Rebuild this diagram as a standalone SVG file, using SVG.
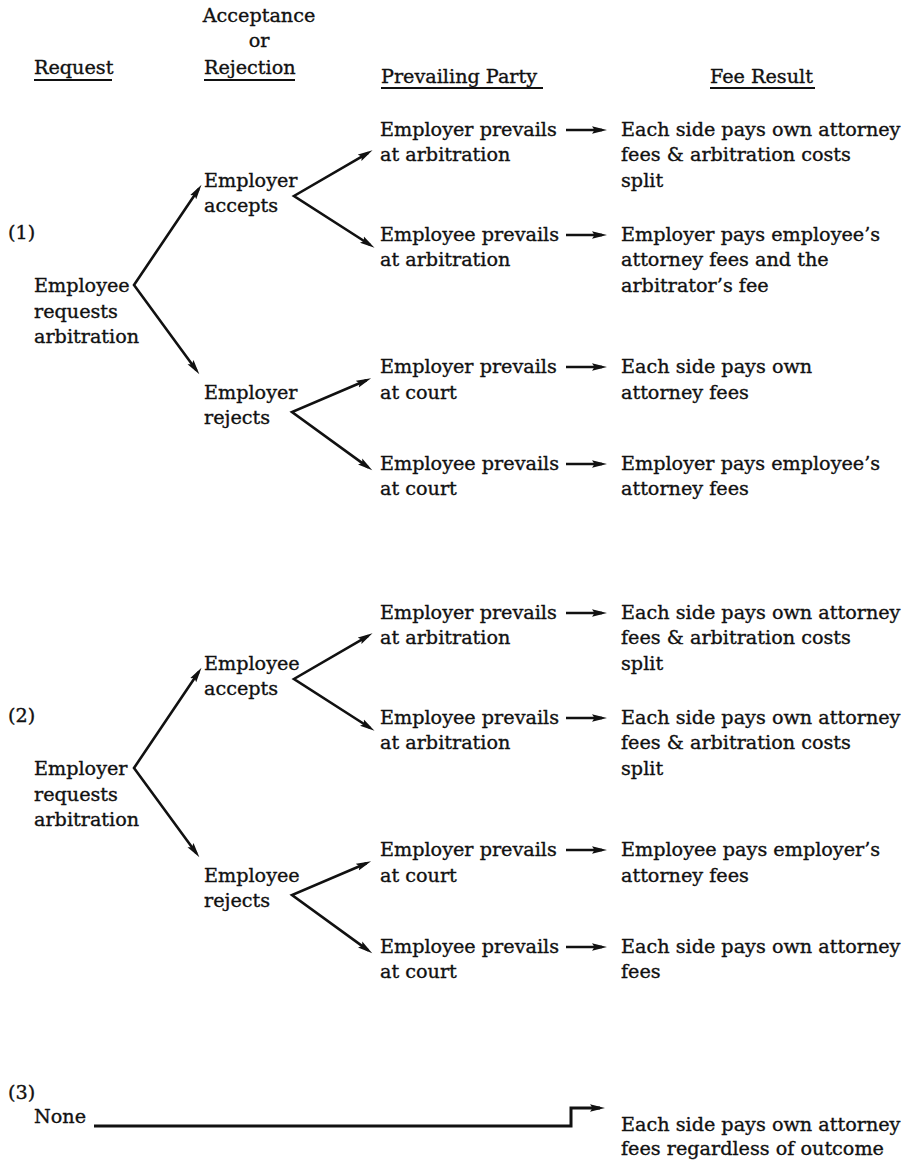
<svg xmlns="http://www.w3.org/2000/svg" width="915" height="1161" viewBox="0 0 915 1161">
<style>
text{font-family:"DejaVu Serif","Liberation Serif",serif;font-size:19.2px;fill:#111;stroke:#111;stroke-width:0.35}
.ul{stroke:#111;stroke-width:2}
.fork{fill:none;stroke:#111;stroke-width:2.6;stroke-linejoin:miter;marker-start:url(#ah);marker-end:url(#ah)}
.h{fill:none;stroke:#111;stroke-width:2.4;marker-end:url(#ah)}
.none{fill:none;stroke:#111;stroke-width:3;stroke-linejoin:miter;marker-end:url(#ah)}
</style>
<defs>
<marker id="ah" markerUnits="userSpaceOnUse" markerWidth="16" markerHeight="9" viewBox="0 0 16 9" refX="10" refY="4.5" orient="auto-start-reverse">
<path d="M0,0.8 L15,4.5 L0,8.2 L2.5,4.5 Z" fill="#111"/>
</marker>
</defs>
<rect width="915" height="1161" fill="#fff"/>

<g id="headers">
<text x="259" y="22" text-anchor="middle">Acceptance</text>
<text x="259" y="47" text-anchor="middle">or</text>
<text x="34" y="74">Request</text>
<text x="204" y="74">Rejection</text>
<text x="381" y="83">Prevailing Party</text>
<text x="710" y="83">Fee Result</text>
<line class="ul" x1="34" y1="80" x2="112" y2="80"/>
<line class="ul" x1="204" y1="80" x2="295" y2="80"/>
<line class="ul" x1="381" y1="88" x2="543" y2="88"/>
<line class="ul" x1="710" y1="88" x2="815" y2="88"/>
</g>

<!-- Section 1 -->
<g id="label1"><text x="8" y="239">(1)</text></g>
<g id="req1"><text x="34" y="292">Employee</text><text x="34" y="318">requests</text><text x="34" y="343">arbitration</text></g>
<g id="acc1"><text x="204" y="187">Employer</text><text x="204" y="212">accepts</text></g>
<g id="rej1"><text x="204" y="399">Employer</text><text x="204" y="424">rejects</text></g>
<g id="p1a"><text x="380" y="136">Employer prevails</text><text x="380" y="161">at arbitration</text></g>
<g id="p1b"><text x="380" y="241">Employee prevails</text><text x="380" y="266">at arbitration</text></g>
<g id="p1c"><text x="380" y="373">Employer prevails</text><text x="380" y="399">at court</text></g>
<g id="p1d"><text x="380" y="470">Employee prevails</text><text x="380" y="495">at court</text></g>
<g id="f1a"><text x="621" y="136">Each side pays own attorney</text><text x="621" y="161">fees &amp; arbitration costs</text><text x="621" y="187">split</text></g>
<g id="f1b"><text x="621" y="241">Employer pays employee’s</text><text x="621" y="266">attorney fees and the</text><text x="621" y="292">arbitrator’s fee</text></g>
<g id="f1c"><text x="621" y="373">Each side pays own</text><text x="621" y="399">attorney fees</text></g>
<g id="f1d"><text x="621" y="470">Employer pays employee’s</text><text x="621" y="495">attorney fees</text></g>

<!-- Section 2 -->
<g id="label2"><text x="8" y="722">(2)</text></g>
<g id="req2"><text x="34" y="775">Employer</text><text x="34" y="801">requests</text><text x="34" y="826">arbitration</text></g>
<g id="acc2"><text x="204" y="670">Employee</text><text x="204" y="695">accepts</text></g>
<g id="rej2"><text x="204" y="882">Employee</text><text x="204" y="907">rejects</text></g>
<g id="p2a"><text x="380" y="619">Employer prevails</text><text x="380" y="644">at arbitration</text></g>
<g id="p2b"><text x="380" y="724">Employee prevails</text><text x="380" y="749">at arbitration</text></g>
<g id="p2c"><text x="380" y="856">Employer prevails</text><text x="380" y="882">at court</text></g>
<g id="p2d"><text x="380" y="953">Employee prevails</text><text x="380" y="978">at court</text></g>
<g id="f2a"><text x="621" y="619">Each side pays own attorney</text><text x="621" y="644">fees &amp; arbitration costs</text><text x="621" y="670">split</text></g>
<g id="f2b"><text x="621" y="724">Each side pays own attorney</text><text x="621" y="749">fees &amp; arbitration costs</text><text x="621" y="775">split</text></g>
<g id="f2c"><text x="621" y="856">Employee pays employer’s</text><text x="621" y="882">attorney fees</text></g>
<g id="f2d"><text x="621" y="953">Each side pays own attorney</text><text x="621" y="978">fees</text></g>

<!-- Section 3 -->
<g id="label3"><text x="8" y="1099">(3)</text></g>
<g id="none3"><text x="34" y="1123">None</text></g>
<g id="f3"><text x="621" y="1131">Each side pays own attorney</text><text x="621" y="1155">fees regardless of outcome</text></g>

<g id="connectors">
<path class="fork" d="M198.7,188.9 L134,285 L196.4,370.2"/>
<path class="fork" d="M368.2,152.8 L294,196 L370.3,245.0"/>
<path class="fork" d="M366.5,380.3 L292,412 L368.2,467.4"/>
<path class="h" d="M566,130 L602,130"/>
<path class="h" d="M566,235 L602,235"/>
<path class="h" d="M566,367 L602,367"/>
<path class="h" d="M566,464 L602,464"/>
<g transform="translate(0,483)">
<path class="fork" d="M198.7,188.9 L134,285 L196.4,370.2"/>
<path class="fork" d="M368.2,152.8 L294,196 L370.3,245.0"/>
<path class="fork" d="M366.5,380.3 L292,412 L368.2,467.4"/>
<path class="h" d="M566,130 L602,130"/>
<path class="h" d="M566,235 L602,235"/>
<path class="h" d="M566,367 L602,367"/>
<path class="h" d="M566,464 L602,464"/>
</g>
<path class="none" d="M94,1126 L571,1126 L571,1108 L600,1108"/>
</g>
</svg>
